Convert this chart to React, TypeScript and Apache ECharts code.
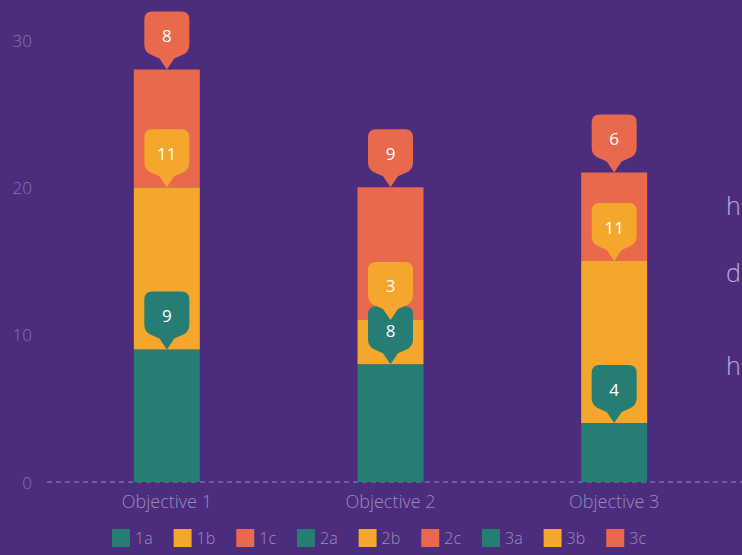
import React, { useEffect, useRef } from "react";
import * as echarts from "echarts";

const categories = ["Objective 1", "Objective 2", "Objective 3"];
const seriesNames = ["1a", "1b", "1c", "2a", "2b", "2c", "3a", "3b", "3c"];
// value of each series; series "Na" .. "Nc" belong to Objective N
const seriesValues = [9, 11, 8, 8, 3, 9, 4, 11, 6];
const seriesColors = ["#267d73", "#f4a62d", "#e9694c"];
const yTicks = [0, 10, 20, 30];
const sideTexts = ["h", "d", "h"];

const PIN =
  "path://M8,0 L37,0 Q45,0 45,8 L45,33 Q45,40 39,43 L30,47 L22.5,58 L15,47 L6,43 Q0,40 0,33 L0,8 Q0,0 8,0 Z";

const FONT = "'Open Sans', sans-serif";

export default function App() {
  const ref = useRef<HTMLDivElement>(null);
  useEffect(() => {
    if (!ref.current) return;
    const chart = echarts.init(ref.current, null, { renderer: "svg" });
    const cum = [0, 0, 0];
    const series = seriesNames.map((name, i) => {
      const cat = Math.floor(i / 3);
      const v = seriesValues[i];
      cum[cat] += v;
      const data = categories.map((_, c) => (c === cat ? v : "-"));
      return {
        name,
        type: "bar",
        stack: "total",
        barWidth: 66,
        itemStyle: { color: seriesColors[i % 3] },
        data,
        markPoint: {
          symbol: PIN,
          symbolSize: [45, 58],
          symbolOffset: [0, "-50%"],
          itemStyle: { color: seriesColors[i % 3] },
          label: {
            show: true,
            color: "#ffffff",
            fontSize: 17,
            fontFamily: FONT,
            offset: [0, -5],
            formatter: "{c}",
          },
          data: [{ coord: [categories[cat], cum[cat]], value: v }],
        },
      };
    });
    chart.setOption({
      animation: false,
      backgroundColor: "#4b2c7d",
      textStyle: { fontFamily: FONT },
      grid: { left: 55, right: 16, top: 40, bottom: 73 },
      legend: {
        bottom: 3,
        left: 107,
        itemWidth: 18,
        itemHeight: 18,
        itemGap: 21,
        icon: "rect",
        textStyle: { color: "#9b8cc4", fontSize: 16, fontWeight: 300, fontFamily: FONT },
        data: seriesNames,
      },
      xAxis: {
        type: "category",
        data: categories,
        axisLine: { show: false },
        axisTick: { show: false },
        axisLabel: { color: "#968cb9", fontSize: 18, fontWeight: 300, margin: 10 },
      },
      yAxis: {
        type: "value",
        min: yTicks[0],
        max: yTicks[yTicks.length - 1],
        interval: 10,
        splitLine: { show: false },
        axisLine: { show: false },
        axisTick: { show: false },
        axisLabel: { color: "#8577ad", fontSize: 17, fontWeight: 300, margin: 23 },
      },
      graphic: [
        {
          type: "line",
          shape: { x1: 47, y1: 482, x2: 742, y2: 482 },
          style: { stroke: "#9a8cc0", lineWidth: 1, lineDash: [5, 4] },
          z: 0,
        },
        ...sideTexts.map((t, i) => ({
          type: "text",
          left: 726,
          top: [192, 259, 352][i],
          style: {
            text: t,
            fill: "#b9acd9",
            fontSize: 25,
            fontWeight: 300,
            fontFamily: FONT,
          },
        })),
      ],
      series,
    });
    return () => chart.dispose();
  }, []);
  return (
    <div
      ref={ref}
      style={{ position: "fixed", left: 0, top: 0, width: 742, height: 555 }}
    />
  );
}
